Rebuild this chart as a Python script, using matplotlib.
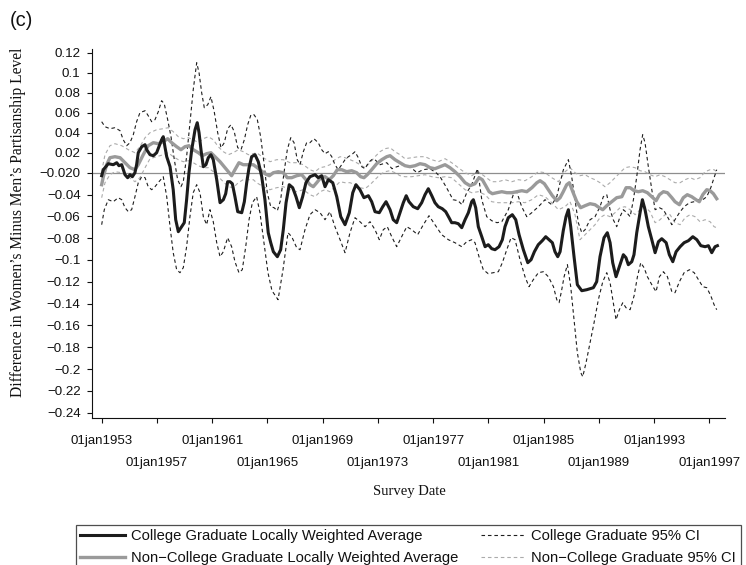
import matplotlib
matplotlib.use("Agg")
import matplotlib.pyplot as plt

# ---- College graduates: locally weighted average ----
college_years = [
    1953.00, 1953.12, 1953.48, 1953.84, 1954.09, 1954.25, 1954.45, 1954.69, 1954.88, 1955.05,
    1955.22, 1955.41, 1955.53, 1955.65, 1955.90, 1956.14, 1956.26, 1956.50, 1956.74, 1956.98,
    1957.15, 1957.34, 1957.46, 1957.58, 1957.71, 1957.95, 1958.18, 1958.36, 1958.55, 1958.74,
    1958.98, 1959.15, 1959.32, 1959.52, 1959.76, 1959.92, 1960.05, 1960.19, 1960.36, 1960.55,
    1960.72, 1960.91, 1961.08, 1961.33, 1961.57, 1961.81, 1961.98, 1962.12, 1962.29, 1962.46,
    1962.65, 1962.85, 1963.14, 1963.33, 1963.50, 1963.67, 1963.86, 1964.10, 1964.34, 1964.59,
    1964.82, 1965.06, 1965.24, 1965.43, 1965.72, 1965.96, 1966.15, 1966.35, 1966.58, 1966.83,
    1967.07, 1967.31, 1967.55, 1967.79, 1968.08, 1968.45, 1968.68, 1968.93, 1969.17, 1969.41,
    1969.73, 1970.02, 1970.31, 1970.62, 1970.93, 1971.18, 1971.41, 1971.70, 1971.99, 1972.31,
    1972.55, 1972.79, 1973.10, 1973.35, 1973.59, 1973.88, 1974.11, 1974.36, 1974.60, 1974.84,
    1975.05, 1975.25, 1975.56, 1975.88, 1976.17, 1976.41, 1976.65, 1976.90, 1977.13, 1977.37,
    1977.66, 1977.91, 1978.15, 1978.34, 1978.58, 1978.82, 1979.07, 1979.31, 1979.55, 1979.79,
    1979.91, 1980.08, 1980.27, 1980.52, 1980.76, 1980.99, 1981.24, 1981.48, 1981.77, 1982.01,
    1982.20, 1982.44, 1982.73, 1982.98, 1983.22, 1983.53, 1983.85, 1984.09, 1984.33, 1984.61,
    1984.90, 1985.15, 1985.39, 1985.63, 1985.82, 1986.02, 1986.19, 1986.42, 1986.62, 1986.79,
    1986.96, 1987.20, 1987.44, 1987.76, 1988.12, 1988.60, 1988.84, 1989.08, 1989.37, 1989.61,
    1989.81, 1990.00, 1990.24, 1990.48, 1990.77, 1990.96, 1991.13, 1991.38, 1991.54, 1991.74,
    1991.98, 1992.15, 1992.34, 1992.58, 1992.83, 1993.07, 1993.31, 1993.55, 1993.87, 1994.10,
    1994.35, 1994.59, 1994.88, 1995.17, 1995.48, 1995.80, 1996.09, 1996.38, 1996.69, 1996.93,
    1997.17, 1997.41, 1997.58,
]
college_avg = [
    -0.003, 0.003, 0.009, 0.008, 0.010, 0.007, 0.008, -0.002, -0.005, -0.002,
    -0.004, 0.000, 0.008, 0.020, 0.026, 0.028, 0.023, 0.018, 0.017, 0.020,
    0.026, 0.033, 0.036, 0.026, 0.016, 0.006, -0.017, -0.047, -0.059, -0.055,
    -0.050, -0.027, 0.000, 0.023, 0.043, 0.050, 0.040, 0.023, 0.006, 0.008,
    0.015, 0.018, 0.013, -0.007, -0.030, -0.027, -0.021, -0.009, -0.009, -0.011,
    -0.024, -0.039, -0.040, -0.029, -0.010, 0.005, 0.016, 0.018, 0.011, -0.004,
    -0.027, -0.060, -0.070, -0.079, -0.084, -0.077, -0.057, -0.030, -0.012, -0.015,
    -0.024, -0.035, -0.024, -0.010, -0.004, -0.002, -0.005, -0.003, -0.014, -0.007,
    -0.010, -0.024, -0.044, -0.052, -0.040, -0.020, -0.012, -0.017, -0.025, -0.023,
    -0.029, -0.039, -0.040, -0.034, -0.029, -0.037, -0.047, -0.050, -0.040, -0.030,
    -0.023, -0.029, -0.034, -0.036, -0.030, -0.022, -0.016, -0.023, -0.030, -0.034,
    -0.036, -0.039, -0.045, -0.050, -0.050, -0.051, -0.055, -0.047, -0.040, -0.029,
    -0.027, -0.035, -0.054, -0.064, -0.074, -0.072, -0.076, -0.077, -0.074, -0.067,
    -0.054, -0.045, -0.042, -0.047, -0.062, -0.077, -0.090, -0.087, -0.079, -0.072,
    -0.068, -0.064, -0.067, -0.070, -0.079, -0.084, -0.079, -0.058, -0.044, -0.037,
    -0.054, -0.084, -0.112, -0.118, -0.117, -0.115, -0.109, -0.084, -0.065, -0.060,
    -0.070, -0.090, -0.104, -0.094, -0.082, -0.085, -0.092, -0.089, -0.082, -0.060,
    -0.040, -0.027, -0.037, -0.054, -0.067, -0.080, -0.069, -0.066, -0.070, -0.082,
    -0.089, -0.079, -0.074, -0.070, -0.068, -0.064, -0.067, -0.073, -0.074, -0.073,
    -0.080, -0.074, -0.073,
]

# ---- Non-college graduates: locally weighted average ----
noncollege_years = [
    1953.00, 1953.12, 1953.36, 1953.60, 1953.96, 1954.33, 1954.69, 1955.05, 1955.41, 1955.65,
    1956.01, 1956.37, 1956.74, 1957.10, 1957.46, 1957.78, 1958.07, 1958.43, 1958.74, 1959.03,
    1959.32, 1959.63, 1960.00, 1960.28, 1960.60, 1960.91, 1961.20, 1961.57, 1961.93, 1962.17,
    1962.41, 1962.65, 1962.94, 1963.25, 1963.62, 1963.98, 1964.46, 1964.82, 1965.14, 1965.43,
    1965.79, 1966.15, 1966.44, 1966.76, 1967.12, 1967.48, 1967.79, 1968.08, 1968.32, 1968.57,
    1968.86, 1969.17, 1969.48, 1969.77, 1970.06, 1970.38, 1970.74, 1971.10, 1971.46, 1971.75,
    1971.99, 1972.23, 1972.55, 1972.91, 1973.28, 1973.64, 1973.88, 1974.24, 1974.60, 1974.96,
    1975.32, 1975.69, 1976.05, 1976.41, 1976.77, 1977.13, 1977.50, 1977.86, 1978.22, 1978.58,
    1978.95, 1979.31, 1979.67, 1980.03, 1980.32, 1980.56, 1980.81, 1981.05, 1981.29, 1981.61,
    1981.97, 1982.33, 1982.70, 1983.06, 1983.42, 1983.78, 1984.15, 1984.51, 1984.74, 1985.05,
    1985.34, 1985.63, 1985.95, 1986.19, 1986.42, 1986.67, 1986.86, 1987.11, 1987.40, 1987.68,
    1988.00, 1988.36, 1988.72, 1989.03, 1989.28, 1989.57, 1989.93, 1990.29, 1990.66, 1990.97,
    1991.26, 1991.55, 1991.86, 1992.17, 1992.51, 1992.83, 1993.14, 1993.38, 1993.67, 1993.96,
    1994.28, 1994.51, 1994.83, 1995.11, 1995.40, 1995.72, 1996.03, 1996.27, 1996.52, 1996.81,
    1997.05, 1997.29, 1997.53,
]
noncollege_avg = [
    -0.012, -0.004, 0.008, 0.015, 0.016, 0.015, 0.010, 0.005, 0.003, 0.008,
    0.018, 0.027, 0.030, 0.029, 0.031, 0.034, 0.030, 0.026, 0.023, 0.026,
    0.027, 0.023, 0.020, 0.017, 0.019, 0.020, 0.016, 0.011, 0.005, 0.001,
    -0.003, 0.003, 0.010, 0.008, 0.008, 0.008, 0.003, -0.001, -0.003, 0.000,
    0.001, 0.000, -0.005, -0.005, -0.003, -0.002, -0.007, -0.012, -0.014, -0.010,
    -0.005, -0.004, -0.007, -0.003, 0.003, 0.003, 0.001, 0.002, 0.000, -0.004,
    -0.005, -0.002, 0.003, 0.009, 0.013, 0.016, 0.017, 0.013, 0.010, 0.007,
    0.006, 0.007, 0.009, 0.008, 0.005, 0.004, 0.006, 0.008, 0.005, 0.001,
    -0.004, -0.010, -0.013, -0.011, -0.005, -0.007, -0.013, -0.019, -0.021, -0.020,
    -0.019, -0.020, -0.020, -0.019, -0.018, -0.019, -0.015, -0.010, -0.008, -0.011,
    -0.017, -0.023, -0.028, -0.025, -0.019, -0.012, -0.010, -0.019, -0.029, -0.035,
    -0.033, -0.031, -0.032, -0.035, -0.037, -0.033, -0.029, -0.025, -0.024, -0.015,
    -0.015, -0.018, -0.019, -0.018, -0.020, -0.024, -0.028, -0.022, -0.019, -0.020,
    -0.025, -0.029, -0.032, -0.025, -0.022, -0.024, -0.027, -0.029, -0.022, -0.017,
    -0.018, -0.021, -0.026,
]

# ---- College graduates: 95% confidence band ----
college_hi_years = [
    1953.00, 1953.24, 1953.60, 1953.96, 1954.33, 1954.56, 1954.81, 1955.05, 1955.29, 1955.53,
    1955.77, 1956.14, 1956.37, 1956.62, 1956.86, 1957.10, 1957.34, 1957.53, 1957.78, 1958.02,
    1958.26, 1958.50, 1958.74, 1958.91, 1959.15, 1959.39, 1959.63, 1959.88, 1960.05, 1960.24,
    1960.43, 1960.68, 1960.91, 1961.15, 1961.40, 1961.64, 1961.88, 1962.12, 1962.36, 1962.60,
    1962.85, 1963.09, 1963.33, 1963.57, 1963.81, 1964.03, 1964.27, 1964.51, 1964.75, 1964.99,
    1965.24, 1965.48, 1965.72, 1965.96, 1966.20, 1966.44, 1966.69, 1966.93, 1967.16, 1967.36,
    1967.60, 1967.84, 1968.08, 1968.37, 1968.68, 1968.93, 1969.17, 1969.41, 1969.66, 1969.89,
    1970.13, 1970.38, 1970.62, 1970.86, 1971.10, 1971.34, 1971.58, 1971.83, 1972.07, 1972.31,
    1972.55, 1972.79, 1973.15, 1973.64, 1974.02, 1974.38, 1974.82, 1975.32, 1975.83, 1976.27,
    1976.77, 1977.21, 1977.50, 1977.93, 1978.44, 1978.80, 1979.09, 1979.43, 1979.79, 1980.21,
    1980.52, 1980.88, 1981.24, 1981.62, 1981.97, 1982.44, 1982.80, 1983.05, 1983.41, 1983.78,
    1984.14, 1984.62, 1985.10, 1985.59, 1985.95, 1986.19, 1986.43, 1986.79, 1987.03, 1987.27,
    1987.51, 1987.76, 1988.00, 1988.36, 1988.72, 1989.08, 1989.32, 1989.57, 1989.81, 1990.04,
    1990.29, 1990.53, 1990.77, 1991.02, 1991.26, 1991.50, 1991.74, 1991.98, 1992.17, 1992.34,
    1992.58, 1992.83, 1993.07, 1993.38, 1993.67, 1993.96, 1994.28, 1994.51, 1994.83, 1995.17,
    1995.56, 1995.90, 1996.21, 1996.52, 1996.81, 1997.10, 1997.34, 1997.53,
]
college_hi = [
    0.051, 0.046, 0.044, 0.045, 0.042, 0.033, 0.027, 0.030, 0.038, 0.051,
    0.060, 0.062, 0.057, 0.051, 0.053, 0.061, 0.072, 0.069, 0.053, 0.036,
    0.013, -0.007, -0.014, -0.009, 0.016, 0.050, 0.083, 0.110, 0.100, 0.080,
    0.065, 0.068, 0.076, 0.061, 0.040, 0.025, 0.030, 0.044, 0.048, 0.041,
    0.025, 0.023, 0.033, 0.048, 0.058, 0.058, 0.053, 0.036, 0.010, -0.020,
    -0.034, -0.035, -0.038, -0.027, 0.000, 0.023, 0.035, 0.030, 0.013, 0.008,
    0.021, 0.030, 0.030, 0.034, 0.030, 0.023, 0.019, 0.021, 0.016, 0.008,
    0.003, 0.008, 0.013, 0.016, 0.018, 0.021, 0.015, 0.006, 0.004, 0.010,
    0.013, 0.013, 0.008, 0.010, 0.004, 0.006, 0.008, 0.006, 0.000, 0.003,
    0.004, 0.000, -0.004, -0.014, -0.027, -0.028, -0.032, -0.020, -0.012, 0.004,
    -0.027, -0.044, -0.048, -0.050, -0.049, -0.037, -0.022, -0.019, -0.034, -0.044,
    -0.040, -0.034, -0.027, -0.032, -0.024, -0.010, 0.003, 0.013, -0.004, -0.027,
    -0.050, -0.060, -0.057, -0.047, -0.044, -0.034, -0.024, -0.022, -0.037, -0.047,
    -0.054, -0.044, -0.037, -0.040, -0.044, -0.027, -0.004, 0.023, 0.038, 0.030,
    0.006, -0.017, -0.037, -0.035, -0.037, -0.044, -0.052, -0.047, -0.040, -0.034,
    -0.030, -0.029, -0.027, -0.027, -0.024, -0.015, -0.005, 0.003,
]
college_lo_years = [
    1953.00, 1953.19, 1953.48, 1953.84, 1954.20, 1954.45, 1954.69, 1954.93, 1955.17, 1955.41,
    1955.65, 1955.90, 1956.14, 1956.37, 1956.62, 1956.86, 1957.15, 1957.46, 1957.71, 1957.95,
    1958.18, 1958.43, 1958.67, 1958.91, 1959.15, 1959.39, 1959.63, 1959.88, 1960.12, 1960.36,
    1960.60, 1960.84, 1961.08, 1961.33, 1961.57, 1961.81, 1962.12, 1962.41, 1962.65, 1962.94,
    1963.18, 1963.43, 1963.67, 1963.91, 1964.22, 1964.46, 1964.75, 1965.04, 1965.33, 1965.77,
    1966.13, 1966.49, 1966.76, 1967.12, 1967.36, 1967.72, 1968.08, 1968.45, 1968.81, 1969.17,
    1969.53, 1969.89, 1970.26, 1970.62, 1970.98, 1971.34, 1971.70, 1972.07, 1972.43, 1972.79,
    1973.10, 1973.39, 1973.68, 1974.00, 1974.36, 1974.72, 1975.09, 1975.45, 1975.88, 1976.29,
    1976.70, 1977.13, 1977.62, 1978.10, 1978.58, 1979.07, 1979.43, 1979.79, 1980.03, 1980.32,
    1980.63, 1980.99, 1981.36, 1981.72, 1982.01, 1982.33, 1982.64, 1982.93, 1983.29, 1983.65,
    1983.94, 1984.25, 1984.62, 1984.98, 1985.34, 1985.71, 1985.95, 1986.12, 1986.31, 1986.48,
    1986.72, 1986.96, 1987.20, 1987.44, 1987.69, 1987.83, 1988.07, 1988.36, 1988.65, 1988.96,
    1989.28, 1989.57, 1989.81, 1990.04, 1990.24, 1990.48, 1990.73, 1990.96, 1991.26, 1991.55,
    1991.79, 1992.03, 1992.27, 1992.51, 1992.83, 1993.14, 1993.38, 1993.67, 1993.96, 1994.28,
    1994.51, 1994.83, 1995.17, 1995.56, 1995.90, 1996.21, 1996.52, 1996.81, 1997.10, 1997.34,
    1997.53,
]
college_lo = [
    -0.052, -0.037, -0.027, -0.029, -0.025, -0.027, -0.035, -0.039, -0.037, -0.024,
    -0.010, -0.004, -0.005, -0.014, -0.017, -0.014, -0.009, -0.004, -0.024, -0.054,
    -0.080, -0.097, -0.100, -0.095, -0.074, -0.044, -0.020, -0.012, -0.020, -0.044,
    -0.052, -0.037, -0.049, -0.070, -0.084, -0.079, -0.065, -0.074, -0.089, -0.100,
    -0.097, -0.074, -0.047, -0.030, -0.024, -0.040, -0.070, -0.100, -0.118, -0.127,
    -0.097, -0.060, -0.064, -0.075, -0.077, -0.057, -0.042, -0.037, -0.040, -0.047,
    -0.039, -0.054, -0.067, -0.080, -0.060, -0.045, -0.049, -0.054, -0.049, -0.057,
    -0.067, -0.057, -0.054, -0.064, -0.074, -0.064, -0.054, -0.057, -0.062, -0.052,
    -0.043, -0.052, -0.062, -0.067, -0.070, -0.074, -0.069, -0.067, -0.070, -0.084,
    -0.097, -0.101, -0.100, -0.099, -0.090, -0.077, -0.065, -0.067, -0.087, -0.104,
    -0.114, -0.107, -0.100, -0.099, -0.104, -0.114, -0.127, -0.130, -0.117, -0.104,
    -0.092, -0.114, -0.147, -0.180, -0.200, -0.204, -0.190, -0.170, -0.150, -0.127,
    -0.109, -0.100, -0.110, -0.130, -0.147, -0.137, -0.130, -0.135, -0.137, -0.123,
    -0.104, -0.090, -0.095, -0.104, -0.112, -0.119, -0.104, -0.099, -0.104, -0.119,
    -0.120, -0.109, -0.100, -0.097, -0.100, -0.107, -0.114, -0.115, -0.123, -0.132,
    -0.137,
]

# ---- Non-college graduates: 95% confidence band ----
noncollege_ci_years = [
    1953.00, 1953.24, 1953.60, 1953.96, 1954.45, 1954.93, 1955.41, 1955.77, 1956.14, 1956.50,
    1956.98, 1957.46, 1957.82, 1958.18, 1958.55, 1958.91, 1959.27, 1959.63, 1960.00, 1960.36,
    1960.72, 1961.08, 1961.44, 1961.81, 1962.17, 1962.53, 1962.89, 1963.25, 1963.62, 1963.98,
    1964.22, 1964.70, 1965.19, 1965.67, 1966.15, 1966.64, 1967.12, 1967.60, 1968.08, 1968.45,
    1968.81, 1969.17, 1969.53, 1969.89, 1970.26, 1970.62, 1970.98, 1971.34, 1971.70, 1972.07,
    1972.43, 1972.79, 1973.15, 1973.51, 1973.88, 1974.24, 1974.60, 1974.96, 1975.45, 1975.93,
    1976.41, 1976.90, 1977.37, 1977.86, 1978.34, 1978.82, 1979.31, 1979.79, 1980.27, 1980.76,
    1981.24, 1981.72, 1982.20, 1982.70, 1983.17, 1983.65, 1984.14, 1984.62, 1985.10, 1985.59,
    1986.07, 1986.55, 1986.91, 1987.27, 1987.63, 1988.00, 1988.36, 1988.72, 1989.08, 1989.44,
    1989.81, 1990.17, 1990.53, 1990.89, 1991.26, 1991.62, 1991.98, 1992.34, 1992.70, 1993.07,
    1993.43, 1993.79, 1994.15, 1994.51, 1994.88, 1995.24, 1995.60, 1995.96, 1996.32, 1996.69,
    1997.05, 1997.34, 1997.53,
]
noncollege_hi = [
    0.001, 0.018, 0.027, 0.029, 0.027, 0.023, 0.020, 0.026, 0.035, 0.040,
    0.043, 0.044, 0.045, 0.041, 0.036, 0.034, 0.035, 0.033, 0.030, 0.034,
    0.036, 0.033, 0.026, 0.021, 0.018, 0.020, 0.023, 0.021, 0.018, 0.019,
    0.020, 0.015, 0.011, 0.013, 0.013, 0.010, 0.010, 0.008, 0.003, 0.001,
    0.005, 0.006, 0.008, 0.013, 0.016, 0.015, 0.013, 0.011, 0.008, 0.005,
    0.010, 0.016, 0.021, 0.024, 0.025, 0.021, 0.018, 0.014, 0.015, 0.016,
    0.016, 0.013, 0.011, 0.014, 0.010, 0.005, 0.000, -0.003, 0.001, -0.004,
    -0.009, -0.009, -0.007, -0.009, -0.007, -0.008, -0.004, 0.001, 0.000, -0.005,
    -0.009, 0.001, 0.005, 0.000, -0.003, -0.002, -0.005, -0.007, -0.010, -0.014,
    -0.010, -0.005, 0.000, 0.005, 0.006, 0.005, 0.002, 0.001, -0.002, -0.004,
    -0.002, -0.004, -0.007, -0.010, -0.010, -0.007, -0.005, -0.007, -0.005, 0.001,
    0.003, 0.003, 0.001,
]
noncollege_lo = [
    -0.025, -0.010, -0.002, 0.001, 0.000, -0.004, -0.009, -0.005, 0.005, 0.014,
    0.016, 0.018, 0.020, 0.016, 0.013, 0.011, 0.012, 0.010, 0.007, 0.005,
    0.005, 0.001, -0.004, -0.009, -0.014, -0.015, -0.010, -0.007, -0.007, -0.007,
    -0.010, -0.014, -0.017, -0.015, -0.014, -0.017, -0.019, -0.017, -0.022, -0.024,
    -0.019, -0.017, -0.019, -0.014, -0.009, -0.010, -0.010, -0.012, -0.015, -0.016,
    -0.012, -0.007, -0.002, 0.001, 0.002, 0.000, -0.003, -0.004, -0.004, -0.003,
    -0.002, -0.004, -0.005, -0.004, -0.005, -0.011, -0.017, -0.020, -0.019, -0.022,
    -0.029, -0.030, -0.030, -0.030, -0.029, -0.030, -0.027, -0.022, -0.024, -0.030,
    -0.037, -0.034, -0.029, -0.042, -0.067, -0.062, -0.057, -0.052, -0.045, -0.042,
    -0.044, -0.040, -0.035, -0.034, -0.037, -0.042, -0.037, -0.034, -0.039, -0.050,
    -0.047, -0.042, -0.042, -0.050, -0.052, -0.045, -0.042, -0.044, -0.049, -0.047,
    -0.049, -0.054, -0.055,
]

# ---- Axis ticks and labels ----
x_tick_years = [1953, 1957, 1961, 1965, 1969, 1973, 1977, 1981, 1985, 1989, 1993, 1997]
x_tick_labels = ["01jan%d" % y for y in x_tick_years]
y_labels_upper = ["0.12", "0.1", "0.08", "0.06", "0.04", "0.02", "\u22120.020"]
y_labels_lower = ["\u22120.04", "\u22120.06", "\u22120.08", "\u22120.1", "\u22120.12",
                  "\u22120.14", "\u22120.16", "\u22120.18", "\u22120.2", "\u22120.22",
                  "\u22120.24"]

SANS = ["Liberation Sans", "DejaVu Sans"]
SERIF = ["Liberation Serif", "DejaVu Serif"]

W, H = 746, 565
fig = plt.figure(figsize=(W / 100, H / 100), dpi=100)
fig.patch.set_facecolor("white")

ax_left, ax_right, ax_top, ax_bottom = 92, 725, 48.7, 418
ax = fig.add_axes([ax_left / W, 1 - ax_bottom / H,
                   (ax_right - ax_left) / W, (ax_bottom - ax_top) / H])
ax.set_xlim(1952.30, 1998.13)
ax.set_ylim(-0.2453, 0.124)

# reference line at zero
ax.axhline(0.0, color="#8e8e8e", lw=0.9, zorder=1)

dash = (0, (3.2, 2.6))
h_ci_nc, = ax.plot(noncollege_ci_years, noncollege_hi, color="#ababab", lw=0.8,
                   linestyle=dash, zorder=2)
ax.plot(noncollege_ci_years, noncollege_lo, color="#ababab", lw=0.8, linestyle=dash, zorder=2)
h_ci_c, = ax.plot(college_hi_years, college_hi, color="#1e1e1e", lw=0.8,
                  linestyle=dash, zorder=3)
ax.plot(college_lo_years, college_lo, color="#1e1e1e", lw=0.8, linestyle=dash, zorder=3)
h_nc, = ax.plot(noncollege_years, noncollege_avg, color="#9a9a9a", lw=2.4, zorder=4,
                solid_joinstyle="round")
h_c, = ax.plot(college_years, college_avg, color="#1c1c1c", lw=2.2, zorder=5,
               solid_joinstyle="round")

# spines
for s in ("top", "right"):
    ax.spines[s].set_visible(False)
for s in ("left", "bottom"):
    ax.spines[s].set_linewidth(0.8)
    ax.spines[s].set_color("#111111")

# y axis: 0.02 steps down to the zero line, then eleven even steps down to -0.24
n_up = len(y_labels_upper)
n_low = len(y_labels_lower)
y_ticks = [0.12 - 0.02 * i for i in range(n_up)]
y_ticks += [-0.24 * (k + 1) / n_low for k in range(n_low)]
ax.set_yticks(y_ticks)
ax.set_yticklabels(y_labels_upper + y_labels_lower)
ax.tick_params(axis="y", direction="out", length=3.6, width=0.8, pad=4.6,
               labelsize=9.6, colors="#111111")

# x axis: alternate labels on two rows
ax.set_xticks(x_tick_years[0::2])
ax.set_xticklabels(x_tick_labels[0::2])
ax.set_xticks(x_tick_years[1::2], minor=True)
ax.set_xticklabels(x_tick_labels[1::2], minor=True)
ax.tick_params(axis="x", which="major", direction="out", length=3.6, width=0.8,
               pad=8.6, labelsize=9.5, colors="#111111")
ax.tick_params(axis="x", which="minor", direction="out", length=3.6, width=0.8,
               pad=24.4, labelsize=9.5, colors="#111111")
for lab in ax.get_xticklabels(which="both") + ax.get_yticklabels():
    lab.set_fontfamily(SANS)

# titles
fig.text(18 / W, 1 - 222 / H, "Difference in Women\u2019s Minus Men\u2019s Partisanship Level",
         rotation=90, ha="center", va="center", fontsize=11.2, family=SERIF, color="#111111")
fig.text(409 / W, 1 - 492 / H, "Survey Date", ha="center", va="center",
         fontsize=10.5, family=SERIF, color="#111111")
fig.text(10 / W, 1 - 11 / H, "(c)", ha="left", va="top", fontsize=14.5,
         family=SANS, color="#111111")

# legend
leg = fig.legend(
    [h_c, h_nc, h_ci_c, h_ci_nc],
    ["College Graduate Locally Weighted Average",
     "Non\u2212College Graduate Locally Weighted Average",
     "College Graduate 95% CI",
     "Non\u2212College Graduate 95% CI"],
    ncol=2, loc="upper left", bbox_to_anchor=(76 / W, 1 - 525 / H),
    bbox_transform=fig.transFigure, frameon=True, fancybox=False,
    borderaxespad=0, borderpad=0.3, handlelength=3.0, handletextpad=0.45,
    columnspacing=1.5, labelspacing=0.5,
    prop={"family": SANS, "size": 10.6},
)
leg.get_frame().set_edgecolor("#222222")
leg.get_frame().set_linewidth(0.9)
for t in leg.get_texts():
    t.set_color("#111111")

fig.savefig("out.png", dpi=100, facecolor="white")
